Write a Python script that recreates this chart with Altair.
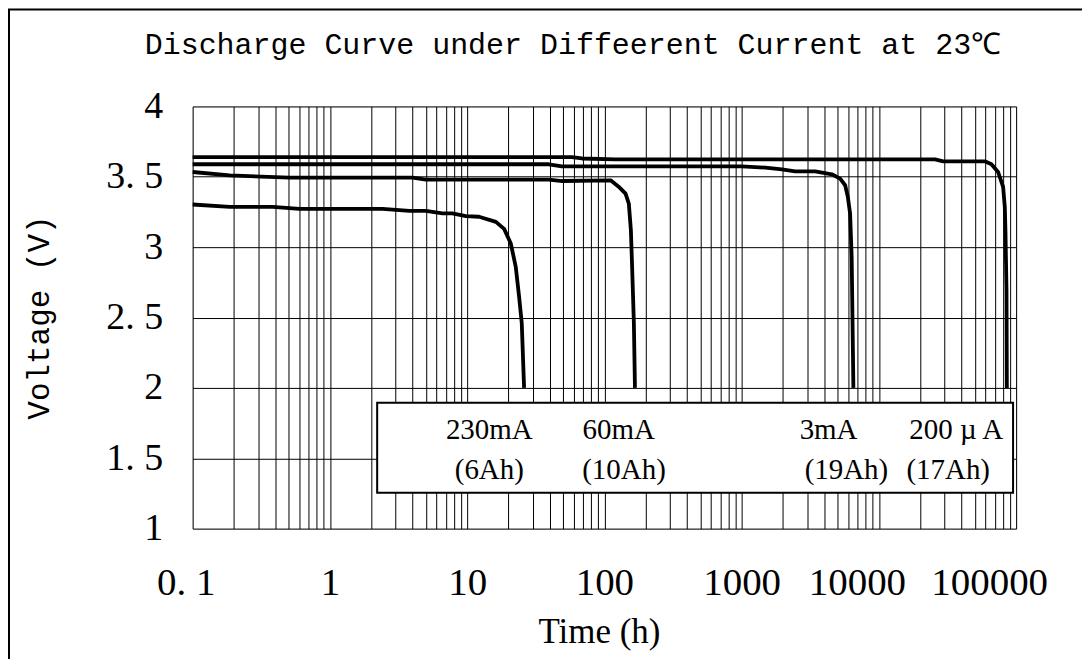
import altair as alt
import pandas as pd

# ---- data ----
t_230 = [0.1, 0.186, 0.384, 0.6, 2.42, 3.79, 5.0, 6.6, 7.8, 9.8, 12.2, 16.2, 18.6, 20.8, 22.6, 23.9, 25.0, 26.0]
v_230 = [3.303, 3.286, 3.286, 3.272, 3.272, 3.258, 3.258, 3.24, 3.24, 3.22, 3.216, 3.18, 3.13, 3.026, 2.86, 2.65, 2.46, 2.0]

t_60 = [0.1, 0.186, 0.507, 4.0, 5.0, 39.4, 49.3, 111, 127, 142.6, 150.7, 156, 159, 164, 167]
v_60 = [3.534, 3.51, 3.494, 3.494, 3.48, 3.48, 3.47, 3.475, 3.43, 3.38, 3.31, 3.12, 2.88, 2.46, 2.0]

t_3 = [0.1, 39.4, 49.0, 1000, 1490, 1964, 2455, 3434, 4540, 5220, 5680, 5940, 6170, 6335, 6430, 6520]
v_3 = [3.589, 3.589, 3.574, 3.574, 3.565, 3.553, 3.539, 3.539, 3.518, 3.487, 3.44, 3.357, 3.24, 2.93, 2.46, 2.0]

t_200 = [0.1, 58, 68.6, 120, 25650, 29440, 59180, 66070, 73900, 80400, 82700, 83600, 85100, 85600]
v_200 = [3.64, 3.64, 3.63, 3.624, 3.624, 3.61, 3.61, 3.589, 3.534, 3.428, 3.286, 3.12, 2.695, 2.0]

series_names = ["230mA", "60mA", "3mA", "200uA"]

legend_current = ["230mA", "60mA", "3mA", "200 µ A"]
legend_capacity = ["(6Ah)", "(10Ah)", "(19Ah)", "(17Ah)"]
legend_t_current = [14.5, 127, 4300, 36600]
legend_t_capacity = [14.5, 139, 5800, 32000]

title_text = "Discharge Curve under Diffeerent Current at 23℃"

x_decades = [0.1, 1, 10, 100, 1000, 10000, 100000]
y_ticks = [1, 1.5, 2, 2.5, 3, 3.5, 4]

grid_x = []
for k in range(-1, 5):
    for m in range(1, 10):
        grid_x.append(round(m * 10 ** k, 6))
grid_x.append(100000)

rows = []
for name, ts, vs in zip(series_names, [t_230, t_60, t_3, t_200], [v_230, v_60, v_3, v_200]):
    for t, v in zip(ts, vs):
        rows.append({"series": name, "t": t, "v": v})
df = pd.DataFrame(rows)

xscale = alt.Scale(type="log", domain=[0.1, 100000], nice=False)
yscale = alt.Scale(domain=[1, 4], nice=False, zero=False)

xaxis = alt.Axis(
    values=grid_x, grid=True, gridColor="black", gridWidth=1, gridOpacity=1,
    ticks=False, domain=False, labelOverlap=False, labelBound=False, labelFlush=False,
    labelExpr="indexof([0.1,1,10,100,1000,10000,100000], datum.value) >= 0 ? (datum.value == 0.1 ? '0. 1' : format(datum.value, 'd')) : ''",
    labelOffset={"condition": [
        {"test": "datum.value == 100000", "value": -27},
        {"test": "datum.value == 10000", "value": -22},
        {"test": "datum.value == 0.1", "value": -7},
    ], "value": 0},
    labelFont="Liberation Serif", labelFontSize=39, labelColor="black", labelPadding=35,
    title="Time (h)", titleFont="Liberation Serif", titleFontSize=35, titleFontWeight="normal",
    titleColor="black", titleX=407, titleY=103, titleBaseline="middle",
)
yaxis = alt.Axis(
    values=y_ticks, grid=True, gridColor="black", gridWidth=1, gridOpacity=1,
    ticks=False, domain=False, labelOverlap=False,
    labelExpr="replace(toString(datum.value), '.', '. ')",
    labelFont="Liberation Serif", labelFontSize=38, labelColor="black", labelPadding=30,
    title="Voltage (V)", titleFont="Liberation Mono", titleFontSize=31, titleFontWeight="normal",
    titleColor="black", titleX=-153, titleY=211, titleBaseline="middle", titleAngle=-90,
)

lines = alt.Chart(df).mark_line(color="black", strokeWidth=3.8, strokeJoin="round").encode(
    x=alt.X("t:Q", scale=xscale, axis=xaxis),
    y=alt.Y("v:Q", scale=yscale, axis=yaxis),
    detail="series:N",
)

box_df = pd.DataFrame({"t1": [2.21], "t2": [95000], "v1": [1.255], "v2": [1.894]})
box = alt.Chart(box_df).mark_rect(fill="white", stroke="black", strokeWidth=2).encode(
    x="t1:Q", x2="t2:Q", y="v1:Q", y2="v2:Q"
)

lab_df = pd.DataFrame({
    "text": legend_current + legend_capacity,
    "t": legend_t_current + legend_t_capacity,
    "v": [1.70] * 4 + [1.418] * 4,
})
labels = alt.Chart(lab_df).mark_text(
    font="Liberation Serif", fontSize=29, color="black", align="center", baseline="middle"
).encode(x="t:Q", y="v:Q", text="text:N")

frame = alt.Chart(alt.Data(values=[{}])).mark_rect(
    fill=None, filled=False, stroke="black", strokeWidth=2
).encode(x=alt.value(-184), x2=alt.value(1100), y=alt.value(-97), y2=alt.value(800))

title = alt.Chart(alt.Data(values=[{"title": title_text}])).mark_text(
    font="Liberation Mono", fontSize=30, color="black", align="center", baseline="middle"
).encode(x=alt.value(381), y=alt.value(-62), text="title:N")

chart = alt.layer(frame, lines, box, labels, title).properties(
    width=825, height=423,
    autosize="none",
    padding={"left": 185, "top": 98, "right": 66, "bottom": 130},
).configure_view(stroke="black", strokeWidth=1.5).configure(background="white")

chart.save("out.html", embed_options={"renderer": "svg", "actions": False})
